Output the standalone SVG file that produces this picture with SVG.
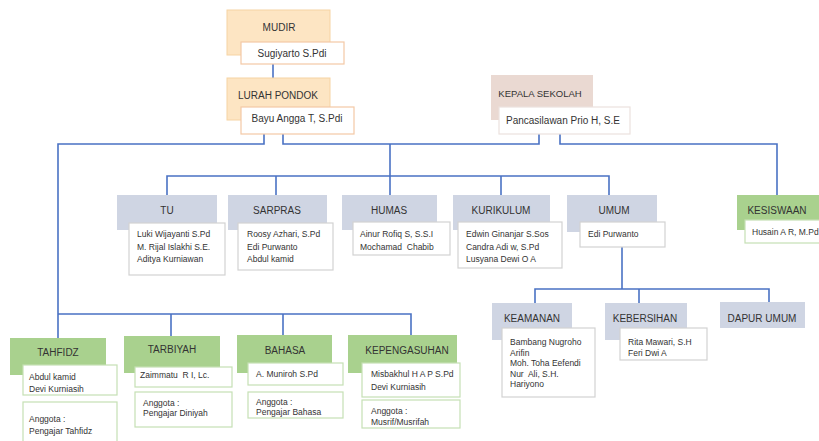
<svg xmlns="http://www.w3.org/2000/svg" width="819" height="441" viewBox="0 0 819 441">
<style>
text{font-family:"Liberation Sans",Arial,sans-serif;fill:#333;white-space:pre}
.h{font-size:10px;text-anchor:middle}
.hs{font-size:9.5px;text-anchor:middle}
.n{font-size:8.5px}
.nm{font-size:10px;text-anchor:middle}
.or{fill:#fde5c3;stroke:#f6d3a3;stroke-width:1}
.orb{fill:#fff;stroke:#f3c9a6;stroke-width:1.2}
.pk{fill:#ead9d2}
.pkb{fill:#fff;stroke:#ece2de;stroke-width:1.2}
.gy{fill:#cfd5e3}
.gyb{fill:#fff;stroke:#d2d2d2;stroke-width:1.2}
.gr{fill:#a9d18e}
.grb{fill:#fff;stroke:#c5e0b4;stroke-width:1.2}
.c{fill:none;stroke:#4a72c4;stroke-width:1.6}
</style>
<rect width="819" height="441" fill="#fff"/>
<g id="connectors">
<path class="c" d="M273 64V78"/>
<path class="c" d="M264 134V144H58V338"/>
<path class="c" d="M283 134V144H539V134"/>
<path class="c" d="M390 144V195"/>
<path class="c" d="M560 134V144H777V195"/>
<path class="c" d="M167 195V176H609V195"/>
<path class="c" d="M276 176V195"/>
<path class="c" d="M501 176V195"/>
<path class="c" d="M622 247V289"/>
<path class="c" d="M535 303V289H769V302"/>
<path class="c" d="M639 289V303"/>
<path class="c" d="M58 314H411V335"/>
<path class="c" d="M171 314V336"/>
<path class="c" d="M283 314V335"/>
</g>
<g id="mudir">
<rect class="or" x="227" y="10" width="103" height="45"/>
<text class="h" x="279" y="31">MUDIR</text>
<rect class="orb" x="241" y="42" width="103" height="22"/>
<text class="nm" x="292" y="57">Sugiyarto S.Pdi</text>
</g>
<g id="lurah">
<rect class="or" x="227" y="78" width="103" height="42"/>
<text class="h" x="278" y="99">LURAH PONDOK</text>
<rect class="orb" x="241" y="107" width="113" height="27"/>
<text class="nm" x="297" y="122">Bayu Angga T, S.Pdi</text>
</g>
<g id="kepala">
<rect class="pk" x="491" y="75" width="102" height="45"/>
<text class="hs" x="540" y="97">KEPALA SEKOLAH</text>
<rect class="pkb" x="499" y="107" width="131" height="27"/>
<text class="nm" x="563" y="124">Pancasilawan Prio H, S.E</text>
</g>
<g id="tu">
<rect class="gy" x="117" y="195" width="100" height="35"/>
<text class="h" x="167" y="214">TU</text>
<rect class="gyb" x="129" y="223" width="96" height="52"/>
<text class="n" x="137" y="237">Luki Wijayanti S.Pd</text>
<text class="n" x="137" y="250">M. Rijal Islakhi S.E.</text>
<text class="n" x="137" y="262">Aditya Kurniawan</text>
</g>
<g id="sarpras">
<rect class="gy" x="228" y="195" width="99" height="35"/>
<text class="h" x="277" y="214">SARPRAS</text>
<rect class="gyb" x="238" y="223" width="95" height="47"/>
<text class="n" x="247" y="237">Roosy Azhari, S.Pd</text>
<text class="n" x="247" y="250">Edi Purwanto</text>
<text class="n" x="247" y="262">Abdul kamid</text>
</g>
<g id="humas">
<rect class="gy" x="342" y="195" width="95" height="35"/>
<text class="h" x="389" y="214">HUMAS</text>
<rect class="gyb" x="353" y="222" width="97" height="33"/>
<text class="n" x="360" y="237">Ainur Rofiq S, S.S.I</text>
<text class="n" x="360" y="250">Mochamad  Chabib</text>
</g>
<g id="kurikulum">
<rect class="gy" x="453" y="195" width="97" height="35"/>
<text class="h" x="501" y="214">KURIKULUM</text>
<rect class="gyb" x="458" y="222" width="104" height="46"/>
<text class="n" x="466" y="237">Edwin Ginanjar S.Sos</text>
<text class="n" x="466" y="250">Candra Adi w, S.Pd</text>
<text class="n" x="466" y="262">Lusyana Dewi O A</text>
</g>
<g id="umum">
<rect class="gy" x="567" y="195" width="90" height="37"/>
<text class="h" x="614" y="214">UMUM</text>
<rect class="gyb" x="580" y="222" width="85" height="25"/>
<text class="n" x="588" y="237">Edi Purwanto</text>
</g>
<g id="kesiswaan">
<rect class="gr" x="737" y="195" width="84" height="35"/>
<text class="h" x="777" y="214">KESISWAAN</text>
<rect class="grb" x="745" y="220" width="80" height="23"/>
<text class="n" x="752" y="235">Husain A R, M.Pd</text>
</g>
<g id="keamanan">
<rect class="gy" x="492" y="303" width="80" height="37"/>
<text class="h" x="532" y="322">KEAMANAN</text>
<rect class="gyb" x="502" y="328" width="93" height="69"/>
<text class="n" x="510" y="345">Bambang Nugroho</text>
<text class="n" x="510" y="355.5">Arifin</text>
<text class="n" x="510" y="366">Moh. Toha Eefendi</text>
<text class="n" x="510" y="376.5">Nur  Ali, S.H.</text>
<text class="n" x="510" y="387">Hariyono</text>
</g>
<g id="kebersihan">
<rect class="gy" x="605" y="303" width="82" height="37"/>
<text class="h" x="645" y="322">KEBERSIHAN</text>
<rect class="gyb" x="620" y="328" width="87" height="32"/>
<text class="n" x="628" y="345">Rita Mawari, S.H</text>
<text class="n" x="628" y="356">Feri Dwi A</text>
</g>
<g id="dapur">
<rect class="gy" x="720" y="302" width="85" height="26"/>
<text class="h" x="762" y="322">DAPUR UMUM</text>
</g>
<g id="tahfidz">
<rect class="gr" x="10" y="338" width="96" height="37"/>
<text class="h" x="58" y="356">TAHFIDZ</text>
<rect class="grb" x="23" y="365" width="94" height="30"/>
<text class="n" x="29" y="380">Abdul kamid</text>
<text class="n" x="29" y="392">Devi Kurniasih</text>
<rect class="grb" x="23" y="402" width="94" height="45"/>
<text class="n" x="29" y="422">Anggota :</text>
<text class="n" x="29" y="434">Pengajar Tahfidz</text>
</g>
<g id="tarbiyah">
<rect class="gr" x="124" y="336" width="96" height="37"/>
<text class="h" x="172" y="353">TARBIYAH</text>
<rect class="grb" x="135" y="367" width="97" height="20"/>
<text class="n" x="140" y="378">Zaimmatu  R I, Lc.</text>
<rect class="grb" x="135" y="392" width="97" height="35"/>
<text class="n" x="143" y="406">Anggota :</text>
<text class="n" x="143" y="416">Pengajar Diniyah</text>
</g>
<g id="bahasa">
<rect class="gr" x="237" y="335" width="95" height="38"/>
<text class="h" x="285" y="354">BAHASA</text>
<rect class="grb" x="248" y="363" width="95" height="22"/>
<text class="n" x="256" y="377">A. Muniroh S.Pd</text>
<rect class="grb" x="248" y="392" width="95" height="26"/>
<text class="n" x="256" y="405">Anggota :</text>
<text class="n" x="256" y="415">Pengajar Bahasa</text>
</g>
<g id="kepengasuhan">
<rect class="gr" x="348" y="335" width="109" height="38"/>
<text class="h" x="407" y="354">KEPENGASUHAN</text>
<rect class="grb" x="362" y="363" width="98" height="34"/>
<text class="n" x="371" y="377">Misbakhul H A P S.Pd</text>
<text class="n" x="371" y="390">Devi Kurniasih</text>
<rect class="grb" x="362" y="400" width="98" height="28"/>
<text class="n" x="371" y="414">Anggota :</text>
<text class="n" x="371" y="425">Musrif/Musrifah</text>
</g>
</svg>
